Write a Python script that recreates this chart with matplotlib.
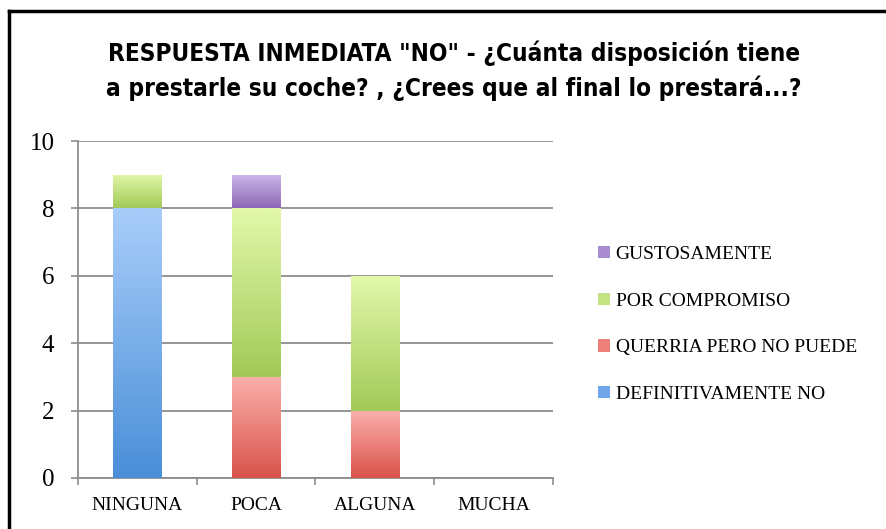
import matplotlib
matplotlib.use("Agg")
import matplotlib.pyplot as plt
import numpy as np
from matplotlib.patches import Patch
from matplotlib.lines import Line2D
from matplotlib.colors import to_rgb

categories = ["NINGUNA", "POCA", "ALGUNA", "MUCHA"]
series_names = ["DEFINITIVAMENTE NO", "QUERRIA PERO NO PUEDE", "POR COMPROMISO", "GUSTOSAMENTE"]
definitivamente_no = [8, 0, 0, 0]
querria_pero_no_puede = [0, 3, 2, 0]
por_compromiso = [1, 5, 4, 0]
gustosamente = [0, 1, 0, 0]
yticks = [0, 2, 4, 6, 8, 10]
title = 'RESPUESTA INMEDIATA "NO" - ¿Cuánta disposición tiene\na prestarle su coche? , ¿Crees que al final lo prestará...?'

series_values = [definitivamente_no, querria_pero_no_puede, por_compromiso, gustosamente]
grad_colors = [("#a9cdfa", "#4a8fd8"),
               ("#fbb0ab", "#d9534b"),
               ("#e2f8aa", "#a2c957"),
               ("#cdb8ea", "#8c68b6")]
legend_colors = ["#6fa6ea", "#ec7f78", "#c4e383", "#a98ccf"]

W, H = 887, 529
fig = plt.figure(figsize=(W / 100, H / 100), dpi=100)
fig.patch.set_facecolor("white")
ax = fig.add_axes([78 / W, 1 - 478 / H, (553 - 78) / W, (478 - 141) / H])

x = np.arange(len(categories))
bottom = np.zeros(len(categories))
for vals, (ctop, cbot) in zip(series_values, grad_colors):
    vals = np.array(vals, dtype=float)
    bars = ax.bar(x, vals, width=0.41, bottom=bottom, color="none", edgecolor="none", zorder=3)
    top_rgb = np.array(to_rgb(ctop))
    bot_rgb = np.array(to_rgb(cbot))
    t = np.linspace(0, 1, 100)[:, None]
    grad = (1 - t) * top_rgb + t * bot_rgb
    img = np.repeat(grad[:, None, :], 2, axis=1)
    for b, v in zip(bars, vals):
        if v <= 0:
            continue
        bx, by = b.get_x(), b.get_y()
        bw, bh = b.get_width(), b.get_height()
        im = ax.imshow(img, extent=(bx, bx + bw, by, by + bh), aspect="auto",
                       origin="upper", zorder=3, interpolation="bilinear")
        im.set_clip_path(b)
    bottom += vals

ax.set_xlim(-0.5, len(categories) - 0.5)
ax.set_ylim(0, 10)
ax.set_yticks(yticks)
ax.set_yticklabels([str(v) for v in yticks], fontsize=18, family="Liberation Serif")
ax.set_xticks(x)
ax.set_xticklabels(categories, fontsize=14, family="Liberation Serif")
ax.set_xticks(np.arange(len(categories) + 1) - 0.5, minor=True)
ax.tick_params(axis="x", which="major", length=0, pad=14)
ax.tick_params(axis="x", which="minor", length=5, width=1.2, color="#8c8c8c", direction="out")
ax.tick_params(axis="y", length=5, width=1.2, color="#8c8c8c", pad=12)
ax.grid(axis="y", color="#8c8c8c", linewidth=1.3, zorder=1)
ax.set_axisbelow(True)
for s in ["top", "right"]:
    ax.spines[s].set_visible(False)
for s in ["left", "bottom"]:
    ax.spines[s].set_color("#8c8c8c")
    ax.spines[s].set_linewidth(1.3)

fig.text(454 / W, 1 - 71 / H, title, ha="center", va="center", fontsize=17.5,
         fontweight="bold", family="DejaVu Sans", fontstretch="condensed",
         linespacing=1.45)

handles = [Patch(facecolor=c, edgecolor="none") for c in legend_colors]
leg = fig.legend(handles[::-1], series_names[::-1], loc="upper left",
                 bbox_to_anchor=(598 / W, 1 - 246 / H), frameon=False,
                 prop={"family": "Liberation Serif", "size": 14},
                 handlelength=0.6, handleheight=0.6, handletextpad=0.3,
                 labelspacing=1.52, borderaxespad=0, borderpad=0)

# outer frame (top and left edges visible in the reference)
fig.add_artist(Line2D([9.5 / W, 1.0], [1 - 11 / H, 1 - 11 / H], transform=fig.transFigure,
                      color="black", linewidth=2.5, solid_capstyle="projecting"))
fig.add_artist(Line2D([9.5 / W, 9.5 / W], [1 - 11 / H, 0.0], transform=fig.transFigure,
                      color="black", linewidth=2.5, solid_capstyle="projecting"))

fig.savefig("out.png", dpi=100)
